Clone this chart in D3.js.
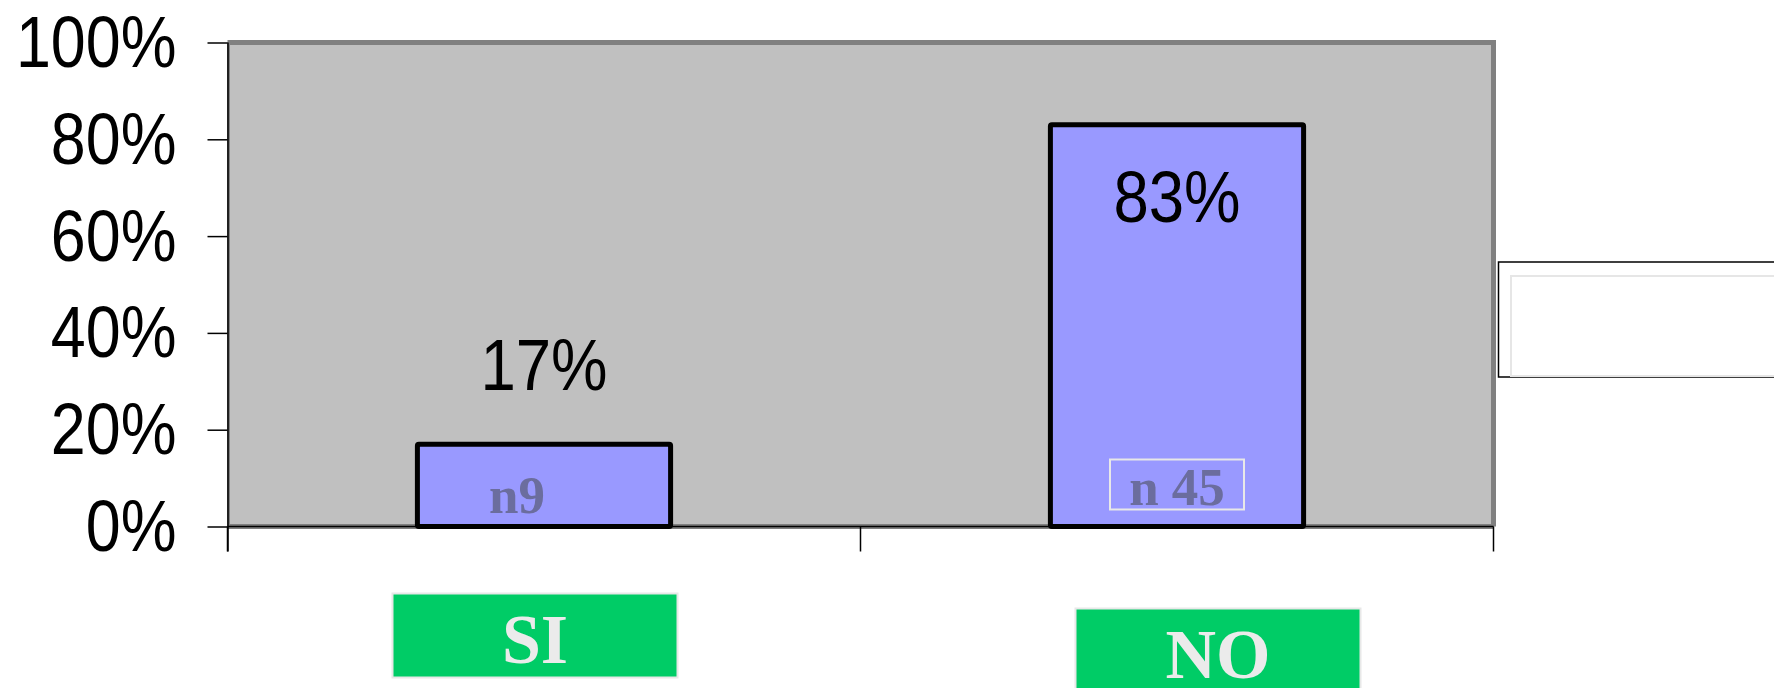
<!DOCTYPE html>
<html>
<head>
<meta charset="utf-8">
<script src="https://cdn.jsdelivr.net/npm/d3@7"></script>
<style>
    body { margin: 0; background: #ffffff; }
    #chart { width: 1774px; height: 688px; overflow: hidden; }
</style>
</head>
<body>
<div id="chart"></div>
<script>
// answers and share of respondents
const categories = ["SI", "NO"];
const shares = [0.17, 0.83];
const counts = ["n9", "n 45"];
const yTicks = [0, 0.2, 0.4, 0.6, 0.8, 1];

// small hand placement of the labels
const nLabelShift = [[-27, -14], [0, -22]];
const nLabelBoxed = [false, true];
const catBoxShift = [[-9, 67], [41, 82]];

class PctBarChart {
    constructor(parentElement) {
        this.parentElement = parentElement;
        this.initVis();
        this.updateVis();
    }

    initVis() {
        let vis = this;

        vis.margin = { top: 42.5, right: 280.5, bottom: 161.5, left: 227.5 };
        vis.width = 1774 - vis.margin.left - vis.margin.right;
        vis.height = 688 - vis.margin.top - vis.margin.bottom;

        vis.root = d3.select("#" + vis.parentElement).append("svg")
            .attr("width", 1774)
            .attr("height", 688);

        vis.svg = vis.root.append("g")
            .attr("transform", `translate(${vis.margin.left}, ${vis.margin.top})`);

        vis.x = d3.scaleBand()
            .domain(categories)
            .range([0, vis.width])
            .paddingInner(0.6)
            .paddingOuter(0.3);

        vis.y = d3.scaleLinear()
            .domain([0, 1])
            .range([vis.height, 0]);

        // grey plot area with its frame
        vis.svg.append("rect")
            .attr("width", vis.width)
            .attr("height", vis.height)
            .attr("fill", "#c0c0c0");

        let frame = [
            [0, 0, vis.width, 0, 5],
            [vis.width, -2.5, vis.width, vis.height, 5],
            [0, vis.height, vis.width, vis.height, 5],
            [1, 0, 1, vis.height, 3]
        ];
        vis.svg.selectAll(".frame")
            .data(frame)
            .enter().append("line")
            .attr("class", "frame")
            .attr("x1", d => d[0]).attr("y1", d => d[1])
            .attr("x2", d => d[2]).attr("y2", d => d[3])
            .attr("stroke", "#808080")
            .attr("stroke-width", d => d[4]);

        // legend box on the right (empty)
        vis.root.append("rect")
            .attr("x", 1498.5).attr("y", 262)
            .attr("width", 300).attr("height", 115)
            .attr("fill", "#ffffff")
            .attr("stroke", "#000000")
            .attr("stroke-width", 1.5);
        vis.root.append("rect")
            .attr("x", 1511).attr("y", 276)
            .attr("width", 300).attr("height", 100)
            .attr("fill", "none")
            .attr("stroke", "#e6e6e6")
            .attr("stroke-width", 2);
    }

    updateVis() {
        let vis = this;
        let data = categories.map((c, i) => ({ cat: c, share: shares[i], n: counts[i], i: i }));

        // bars
        vis.svg.selectAll(".bar")
            .data(data)
            .enter().append("rect")
            .attr("class", "bar")
            .attr("x", d => vis.x(d.cat))
            .attr("y", d => vis.y(d.share))
            .attr("width", vis.x.bandwidth())
            .attr("height", d => vis.height - vis.y(d.share))
            .attr("rx", 1.5)
            .attr("fill", "#9999ff")
            .attr("stroke", "#000000")
            .attr("stroke-width", 5);

        // y axis
        vis.yAxis = d3.axisLeft(vis.y)
            .tickValues(yTicks)
            .tickFormat(d3.format(".0%"))
            .tickSize(20)
            .tickSizeOuter(0);

        let yg = vis.svg.append("g")
            .attr("class", "y-axis")
            .call(vis.yAxis);
        yg.select(".domain").attr("stroke", "#000000").attr("stroke-width", 1.5)
            .attr("d", `M0.5,0V${vis.height + 25}`);
        yg.selectAll(".tick line").attr("stroke", "#000000").attr("stroke-width", 1.5);
        yg.selectAll("text")
            .attr("x", 0)
            .attr("dy", "0.33em")
            .attr("transform", "translate(-51,0) scale(0.86,1)")
            .style("font-family", "'Liberation Sans', Arial, sans-serif")
            .style("font-size", "73px")
            .attr("fill", "#000000");

        // x axis line with ticks between the categories
        let step = vis.x.step();
        let bounds = [0].concat(categories.map(c => vis.x(c) + vis.x.bandwidth() / 2 + step / 2));
        vis.svg.append("line")
            .attr("x1", 0).attr("x2", vis.width)
            .attr("y1", vis.height).attr("y2", vis.height)
            .attr("stroke", "#000000").attr("stroke-width", 1.5);
        vis.svg.selectAll(".x-tick")
            .data(bounds)
            .enter().append("line")
            .attr("class", "x-tick")
            .attr("x1", d => d).attr("x2", d => d)
            .attr("y1", vis.height).attr("y2", vis.height + 25)
            .attr("stroke", "#000000").attr("stroke-width", 1.5);

        // percentage labels
        vis.svg.selectAll(".pct-label")
            .data(data)
            .enter().append("text")
            .attr("class", "pct-label")
            .attr("text-anchor", "middle")
            .attr("transform", d => {
                let cx = vis.x(d.cat) + vis.x.bandwidth() / 2;
                let top = vis.y(d.share);
                let by = d.share > 0.5 ? top + 97 : top - 54;
                return `translate(${cx},${by}) scale(0.87,1)`;
            })
            .style("font-family", "'Liberation Sans', Arial, sans-serif")
            .style("font-size", "73px")
            .attr("fill", "#000000")
            .text(d => Math.round(d.share * 100) + "%");

        // n labels inside bars
        let nLab = vis.svg.selectAll(".n-label")
            .data(data)
            .enter().append("g")
            .attr("class", "n-label")
            .attr("transform", d => {
                let cx = vis.x(d.cat) + vis.x.bandwidth() / 2 + nLabelShift[d.i][0];
                return `translate(${cx},${vis.height + nLabelShift[d.i][1]})`;
            });
        nLab.filter(d => nLabelBoxed[d.i]).append("rect")
            .attr("x", -67).attr("y", -45)
            .attr("width", 134).attr("height", 50)
            .attr("fill", "none")
            .attr("stroke", "#e8e8e8")
            .attr("stroke-width", 2);
        nLab.append("text")
            .attr("text-anchor", "middle")
            .style("font-family", "'Liberation Serif', 'Times New Roman', serif")
            .style("font-weight", "bold")
            .style("font-size", "53px")
            .attr("fill", "#6b6d9e")
            .text(d => d.n);

        // green category boxes below the axis
        let cat = vis.svg.selectAll(".cat-box")
            .data(data)
            .enter().append("g")
            .attr("class", "cat-box")
            .attr("transform", d => {
                let cx = vis.x(d.cat) + vis.x.bandwidth() / 2 + catBoxShift[d.i][0];
                return `translate(${cx},${vis.height + catBoxShift[d.i][1]})`;
            });
        cat.append("rect")
            .attr("x", -142.5).attr("y", 0)
            .attr("width", 285).attr("height", 84)
            .attr("fill", "#00cc66")
            .attr("stroke", "#e8e8e8")
            .attr("stroke-width", 2);
        cat.append("text")
            .attr("text-anchor", "middle")
            .attr("y", 69)
            .style("font-family", "'Liberation Serif', 'Times New Roman', serif")
            .style("font-weight", "bold")
            .style("font-size", "70px")
            .attr("fill", "#ebebeb")
            .text(d => d.cat);
    }
}

new PctBarChart("chart");
</script>
</body>
</html>
